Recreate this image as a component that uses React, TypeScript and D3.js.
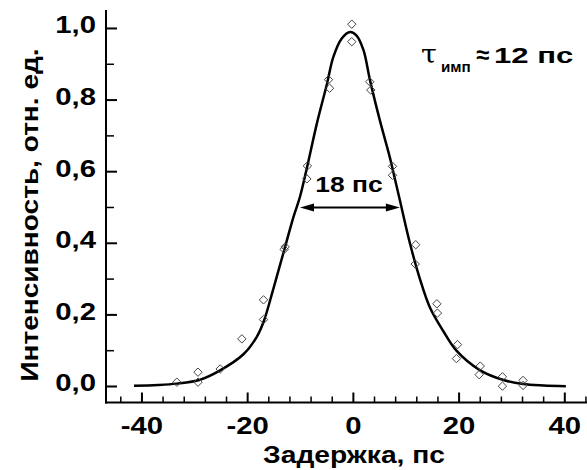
import React from "react";
import * as d3 from "d3";

const curveX = [-41.5, -37, -33.4, -29, -25.2, -20.8, -18.3, -17, -15.1, -13.2, -11.3, -10.1, -8.8, -6.9, -5.0, -3.8, -2.2, -0.6, 0.6, 1.9, 3.15, 5.0, 6.9, 7.9, 8.8, 10.7, 12.6, 14.5, 17.0, 19.5, 24.0, 28.4, 32.1, 36, 40.2];
const curveY = [0.002, 0.004, 0.008, 0.019, 0.045, 0.09, 0.138, 0.18, 0.275, 0.375, 0.475, 0.53, 0.61, 0.735, 0.845, 0.92, 0.972, 0.99, 0.98, 0.94, 0.855, 0.744, 0.64, 0.577, 0.52, 0.40, 0.30, 0.22, 0.155, 0.10, 0.045, 0.018, 0.007, 0.003, 0.001];

const pointX = [-33.4, -29.4, -29.4, -25.2, -21.1, -17.0, -17.0, -13.1, -12.9, -8.7, -8.8, -4.7, -4.5, -0.3, -0.3, 3.1, 3.3, 7.4, 7.4, 11.8, 11.7, 15.8, 15.9, 19.7, 19.5, 24.0, 23.8, 28.2, 28.2, 32.1, 32.1];
const pointY = [0.012, 0.04, 0.012, 0.049, 0.133, 0.242, 0.187, 0.383, 0.39, 0.616, 0.58, 0.857, 0.833, 1.012, 0.963, 0.851, 0.828, 0.615, 0.59, 0.396, 0.342, 0.231, 0.205, 0.117, 0.078, 0.057, 0.033, 0.027, 0.001, 0.017, 0.003];

const xMajorTicks = [-40, -20, 0, 20, 40];
const xMinorTicks = [-44, -36, -32, -28, -24, -16, -12, -8, -4, 4, 8, 12, 16, 24, 28, 32, 36, 44];
const yMajorTicks = [0, 0.2, 0.4, 0.6, 0.8, 1.0];
const yMinorTicks = [0.1, 0.3, 0.5, 0.7, 0.9];
const yTickLabels = ["0,0", "0,2", "0,4", "0,6", "0,8", "1,0"];
const xTickLabels = ["-40", "-20", "0", "20", "40"];

const fwhmLeft = -10.1;
const fwhmRight = 8.8;
const fwhmLevel = 0.5;

const W = 587;
const H = 470;
const left = 106;
const bottom = 402.5;
const top = 10;

const FONT = "'Liberation Sans', Arial, sans-serif";
const SX = 1.2;

function T({ x, y, size, anchor = "middle", children, rotate = 0, sx = SX }: any) {
  const tr = rotate
    ? `translate(${x},${y}) rotate(${rotate}) scale(${sx},1)`
    : `translate(${x},${y}) scale(${sx},1)`;
  return (
    <text transform={tr} fontSize={size} fontFamily={FONT} fontWeight="bold" textAnchor={anchor} fill="#000">
      {children}
    </text>
  );
}

export default function App() {
  const x = d3.scaleLinear().domain([-46.8, 44.2]).range([left, W]);
  const y = d3.scaleLinear().domain([-0.0447, 1.0516]).range([bottom, top]);

  const pts = curveX.map((v, i) => [v, curveY[i]] as [number, number]);
  const line = d3
    .line<[number, number]>()
    .x((d) => x(d[0]))
    .y((d) => y(d[1]))
    .curve(d3.curveCatmullRom.alpha(0.5));

  const ds = 4.2;
  const ay = y(fwhmLevel);
  const axL = x(fwhmLeft);
  const axR = x(fwhmRight);

  return (
    <svg width={W} height={H} style={{ position: "absolute", left: 0, top: 0, background: "#fff" }}>
      <rect width={W} height={H} fill="#fff" />
      {/* axes */}
      <line x1={left} y1={top} x2={left} y2={bottom + 1} stroke="#000" strokeWidth={2} />
      <line x1={left - 1} y1={bottom} x2={W} y2={bottom} stroke="#000" strokeWidth={2} />
      {yMajorTicks.map((t) => (
        <line key={"ym" + t} x1={left} x2={left + 11} y1={y(t)} y2={y(t)} stroke="#000" strokeWidth={2} />
      ))}
      {yMinorTicks.map((t) => (
        <line key={"yn" + t} x1={left} x2={left + 8} y1={y(t)} y2={y(t)} stroke="#000" strokeWidth={1.5} />
      ))}
      {xMajorTicks.map((t) => (
        <line key={"xm" + t} x1={x(t)} x2={x(t)} y1={bottom} y2={bottom - 10} stroke="#000" strokeWidth={2} />
      ))}
      {xMinorTicks.map((t) => (
        <line key={"xn" + t} x1={x(t)} x2={x(t)} y1={bottom} y2={bottom - 6} stroke="#000" strokeWidth={1.5} />
      ))}
      {yMajorTicks.map((t, i) => (
        <T key={"yl" + t} x={96} y={y(t) + 5} size={24} anchor="end" sx={1.22}>
          {yTickLabels[i]}
        </T>
      ))}
      {xMajorTicks.map((t, i) => (
        <T key={"xl" + t} x={x(t)} y={434} size={24} sx={1.22}>
          {xTickLabels[i]}
        </T>
      ))}
      <T x={354} y={463} size={23.5}>
        Задержка, пс
      </T>
      <T x={38} y={215} size={23} rotate={-90} sx={1.22}>
        Интенсивность, отн. ед.
      </T>
      {/* curve */}
      <path d={line(pts) || ""} fill="none" stroke="#000" strokeWidth={2.5} />
      {/* points */}
      {pointX.map((v, i) => {
        const cx = x(v);
        const cy = y(pointY[i]);
        return (
          <path
            key={"p" + i}
            d={`M${cx},${cy - ds}L${cx + ds},${cy}L${cx},${cy + ds}L${cx - ds},${cy}Z`}
            fill="none"
            stroke="#444"
            strokeWidth={1}
          />
        );
      })}
      {/* FWHM arrow */}
      <line x1={axL + 8} x2={axR - 8} y1={ay} y2={ay} stroke="#000" strokeWidth={2} />
      <path d={`M${axL},${ay}L${axL + 14},${ay - 4}L${axL + 14},${ay + 4}Z`} fill="#000" />
      <path d={`M${axR},${ay}L${axR - 14},${ay - 4}L${axR - 14},${ay + 4}Z`} fill="#000" />
      <T x={349} y={192} size={22}>
        18 пс
      </T>
      {/* tau annotation */}
      <text transform={`translate(421,63) scale(1.1,1)`} fontSize={26} fontFamily="'DejaVu Serif', serif" fill="#000">
        τ
      </text>
      <T x={441} y={72} size={14.5} anchor="start" sx={1.05}>
        имп
      </T>
      <T x={476} y={63} size={24} anchor="start" sx={1.0}>
        ≈
      </T>
      <T x={494} y={63} size={22.5} anchor="start" sx={1.38}>
        12 пс
      </T>
    </svg>
  );
}
